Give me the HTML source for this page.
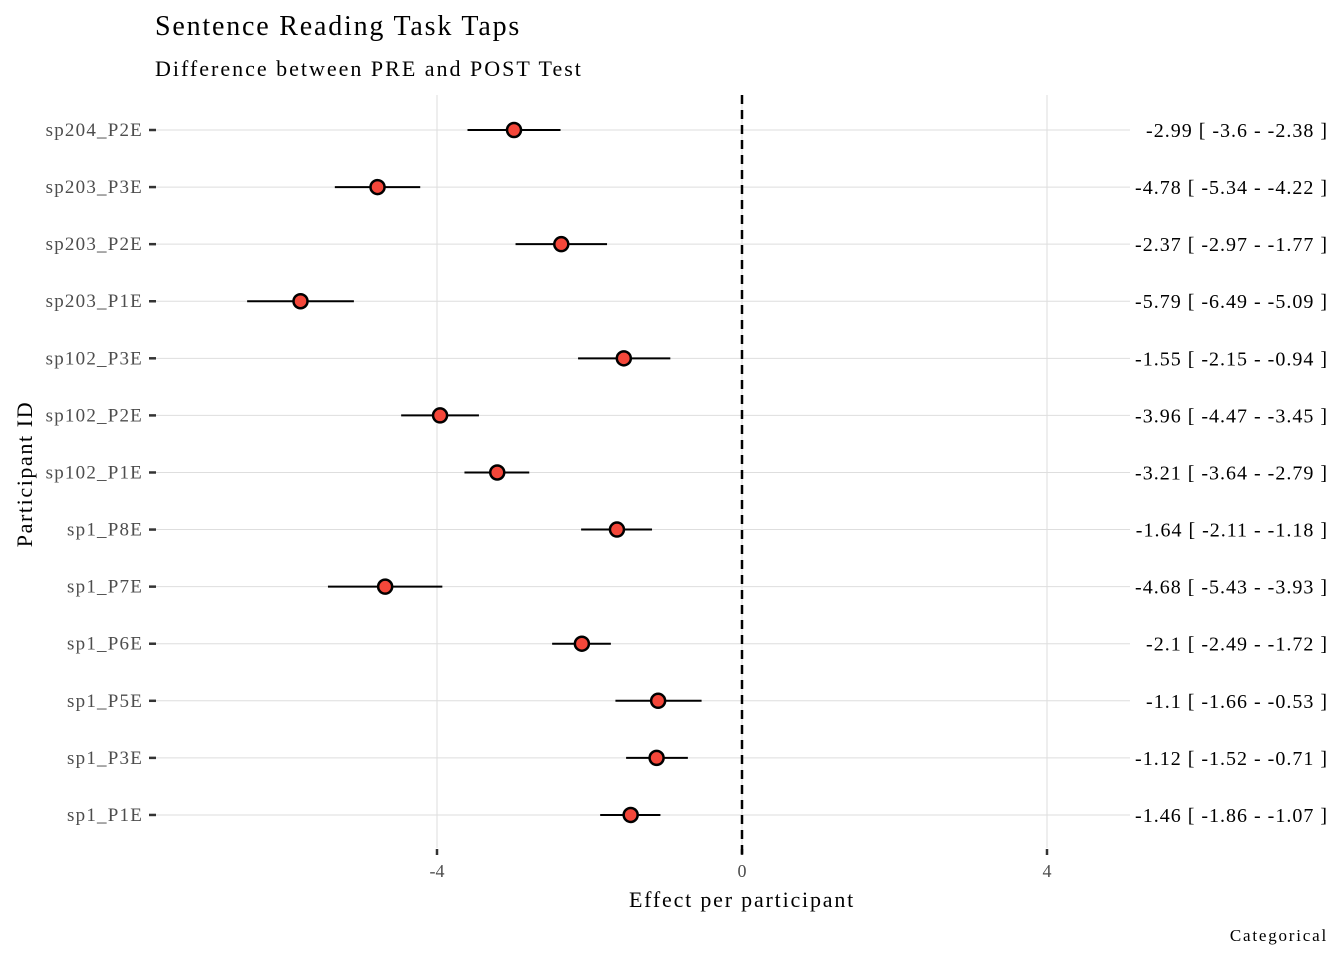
<!DOCTYPE html>
<html><head><meta charset="utf-8"><style>
body{margin:0;background:#fff}
svg text{font-family:"Liberation Serif",serif}
</style></head><body>
<svg id="c" width="1344" height="960" xmlns="http://www.w3.org/2000/svg">
<text x="155" y="35" font-size="28" letter-spacing="1.8" fill="#000">Sentence Reading Task Taps</text>
<text x="155" y="76" font-size="22" letter-spacing="2" fill="#000">Difference between PRE and POST Test</text>
<text x="742" y="907" font-size="22" letter-spacing="1.8" text-anchor="middle">Effect per participant</text>
<text transform="translate(32,474) rotate(-90)" font-size="22" letter-spacing="1.6" text-anchor="middle">Participant ID</text>
<text x="1328" y="941" font-size="17" letter-spacing="1.8" text-anchor="end">Categorical</text>
<g id="grid"></g><g id="marks"></g>
</svg>
<script>
const participants=["sp204_P2E","sp203_P3E","sp203_P2E","sp203_P1E","sp102_P3E","sp102_P2E","sp102_P1E","sp1_P8E","sp1_P7E","sp1_P6E","sp1_P5E","sp1_P3E","sp1_P1E"];
const estimates=[-2.99,-4.78,-2.37,-5.79,-1.55,-3.96,-3.21,-1.64,-4.68,-2.1,-1.1,-1.12,-1.46];
const lower=[-3.6,-5.34,-2.97,-6.49,-2.15,-4.47,-3.64,-2.11,-5.43,-2.49,-1.66,-1.52,-1.86];
const upper=[-2.38,-4.22,-1.77,-5.09,-0.94,-3.45,-2.79,-1.18,-3.93,-1.72,-0.53,-0.71,-1.07];
const xTicks=[-4,0,4];
const NS="http://www.w3.org/2000/svg";
const xs=v=>742+v*76.25;
const ys=i=>130+i*57.08;
const grid=document.getElementById('grid'),marks=document.getElementById('marks');
function mk(p,tag,a){const e=document.createElementNS(NS,tag);for(const k in a)e.setAttribute(k,a[k]);p.appendChild(e);return e;}
xTicks.forEach(t=>{
 const l=mk(grid,'line',{x1:xs(t),x2:xs(t),y1:95,y2:848,stroke:'#dedede','stroke-width':1});
 
 
 const tk=mk(grid,'line',{x1:xs(t),x2:xs(t),y1:849,y2:855,stroke:'#333','stroke-width':2.5});
 
 
 const tx=mk(grid,'text',{x:xs(t),y:877,'font-size':18,fill:'#4d4d4d','text-anchor':'middle'});
 tx.textContent=t;
 
 
});
participants.forEach((p,i)=>{
 const y=ys(i);
 const g=mk(grid,'line',{x1:155,x2:1130,y1:y,y2:y,stroke:'#dedede','stroke-width':1});
 
 
 const tk=mk(grid,'line',{x1:149,x2:156,y1:y,y2:y,stroke:'#333','stroke-width':2.5});
 
 
 const tx=mk(grid,'text',{x:143,y:y+6,'font-size':19,'letter-spacing':1.2,fill:'#4d4d4d','text-anchor':'end'});
 tx.textContent=p;
 
 
});
const zl=mk(grid,'line',{x1:xs(0),x2:xs(0),y1:95,y2:855,stroke:'#000','stroke-width':2.5,'stroke-dasharray':'9,6'});


participants.forEach((p,i)=>{
 const y=ys(i);
 const ci=mk(marks,'line',{x1:xs(lower[i]),x2:xs(upper[i]),y1:y,y2:y,stroke:'#000','stroke-width':2});
 
 
 const c=mk(marks,'circle',{cx:xs(estimates[i]),cy:y,r:7,fill:'#f4473a',stroke:'#000','stroke-width':2.5});
 
 
 const t=mk(marks,'text',{x:1328,y:y+7,'font-size':20,'letter-spacing':1,fill:'#000','text-anchor':'end'});
 t.textContent=estimates[i]+' [ '+lower[i]+' - '+upper[i]+' ]';
 
 
});
</script>
</body></html>
